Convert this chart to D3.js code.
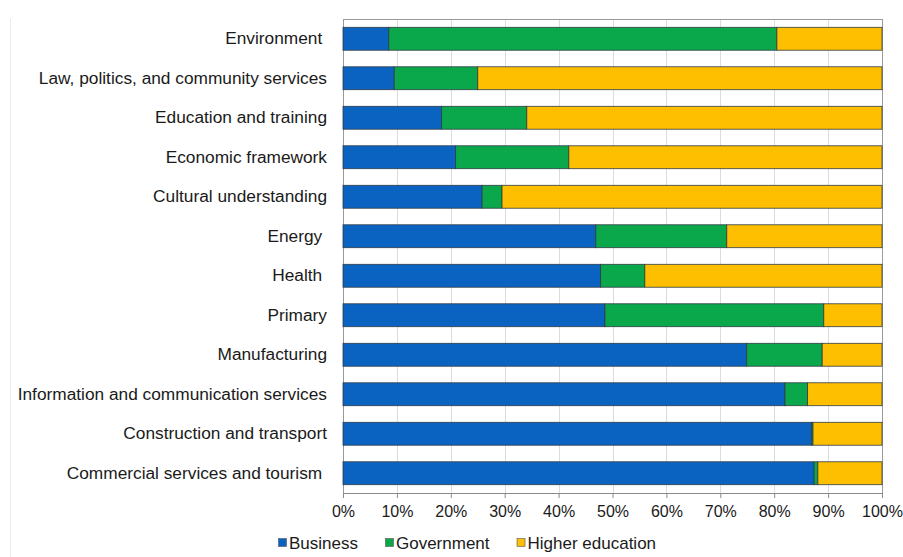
<!DOCTYPE html>
<html>
<head>
<meta charset="utf-8">
<script src="https://cdn.jsdelivr.net/npm/d3@7"></script>
<style>
  html, body { margin: 0; padding: 0; background: #fff; }
  svg { display: block; }
  text { font-family: "Liberation Sans", Arial, sans-serif; fill: #1a1a1a; }
</style>
</head>
<body>
<svg id="chart" width="903" height="557"></svg>
<script>
// Sectors, top to bottom (trailing spaces kept as in the labels)
const categories = [
  "Environment ",
  "Law, politics, and community services",
  "Education and training",
  "Economic framework",
  "Cultural understanding",
  "Energy ",
  "Health ",
  "Primary",
  "Manufacturing",
  "Information and communication services",
  "Construction and transport",
  "Commercial services and tourism "
];

// Share of R&D expenditure by sector of performance (%)
const business        = [8.5, 9.5, 18.3, 20.9, 25.8, 46.9, 47.8, 48.6, 74.9, 82.0, 86.9, 87.4];
const government      = [72.0, 15.5, 15.8, 21.0, 3.7, 24.3, 8.2, 40.6, 14.0, 4.2, 0.3, 0.7];
const higherEducation = [19.5, 75.0, 65.9, 58.1, 70.5, 28.8, 44.0, 10.8, 11.1, 13.8, 12.8, 11.9];

const seriesNames = ["Business", "Government", "Higher education"];
const seriesColors = ["#0b63c1", "#0ba84b", "#fdbf00"];
const tickValues = [0, 0.1, 0.2, 0.3, 0.4, 0.5, 0.6, 0.7, 0.8, 0.9, 1.0];

const svg = d3.select("#chart");
const margin = { left: 343, right: 21, top: 19, bottom: 64 };
const W = 903, H = 557;
const iw = W - margin.left - margin.right;
const ih = H - margin.top - margin.bottom;

const rows = categories.map((c, i) => ({
  cat: c, Business: business[i], Government: government[i], "Higher education": higherEducation[i]
}));

const stack = d3.stack().keys(seriesNames).offset(d3.stackOffsetExpand);
const layers = stack(rows);

const x = d3.scaleLinear().domain([0, 1]).range([0, iw]);
const y = d3.scaleBand().domain(categories).range([0, ih]).paddingInner(0.42).paddingOuter(0.21);
const color = d3.scaleOrdinal().domain(seriesNames).range(seriesColors);

// faint page edge on the left
svg.append("line")
  .attr("x1", 10.5).attr("x2", 10.5).attr("y1", 18).attr("y2", H)
  .attr("stroke", "#ececec").attr("stroke-width", 1);

const g = svg.append("g").attr("transform", `translate(${margin.left},${margin.top})`);

// vertical gridlines
g.append("g").selectAll("line").data(tickValues.slice(1, -1)).join("line")
  .attr("x1", d => Math.round(x(d)) + 0.5).attr("x2", d => Math.round(x(d)) + 0.5)
  .attr("y1", 0).attr("y2", ih)
  .attr("stroke", "#dcdcdc").attr("stroke-width", 1);

// plot frame
g.append("rect")
  .attr("x", 0.5).attr("y", 0.5).attr("width", iw).attr("height", ih)
  .attr("fill", "none").attr("stroke", "#9a9a9a").attr("stroke-width", 1);

// stacked bars
g.append("g").selectAll("g").data(layers).join("g")
  .attr("fill", d => color(d.key))
  .selectAll("rect").data(d => d).join("rect")
  .attr("x", d => x(d[0]))
  .attr("y", d => y(d.data.cat))
  .attr("width", d => Math.max(0, x(d[1]) - x(d[0])))
  .attr("height", y.bandwidth())
  .attr("stroke", "#2f3b45").attr("stroke-width", 0.8);

// x axis
const xAxis = d3.axisBottom(x).tickValues(tickValues).tickFormat(d3.format(".0%")).tickSize(5).tickPadding(8);
const ax = g.append("g").attr("transform", `translate(0,${ih})`).call(xAxis);
ax.select(".domain").attr("stroke", "#8a8a8a");
ax.selectAll(".tick line").attr("stroke", "#8a8a8a");
ax.selectAll(".tick text").attr("font-size", 16).attr("fill", "#222")
  .style("font-family", "'Liberation Sans', Arial, sans-serif");

// category labels
const yAxis = d3.axisLeft(y).tickSize(0).tickPadding(16);
const ay = g.append("g").call(yAxis);
ay.select(".domain").remove();
ay.selectAll(".tick text").attr("font-size", 17.3).attr("fill", "#1e1e1e")
  .style("white-space", "pre")
  .style("font-family", "'Liberation Sans', Arial, sans-serif");

// legend
const legend = svg.append("g").attr("transform", "translate(278,543)");
let lx = 0;
seriesNames.forEach(name => {
  const item = legend.append("g").attr("transform", `translate(${lx},0)`);
  item.append("rect").attr("x", 0.5).attr("y", -4.5).attr("width", 8).attr("height", 8)
    .attr("fill", color(name)).attr("stroke", "#555").attr("stroke-width", 0.6);
  const t = item.append("text").attr("x", 11).attr("y", 6).attr("font-size", 17).text(name);
  lx += 11 + t.node().getComputedTextLength() + 27;
});
</script>
</body>
</html>
